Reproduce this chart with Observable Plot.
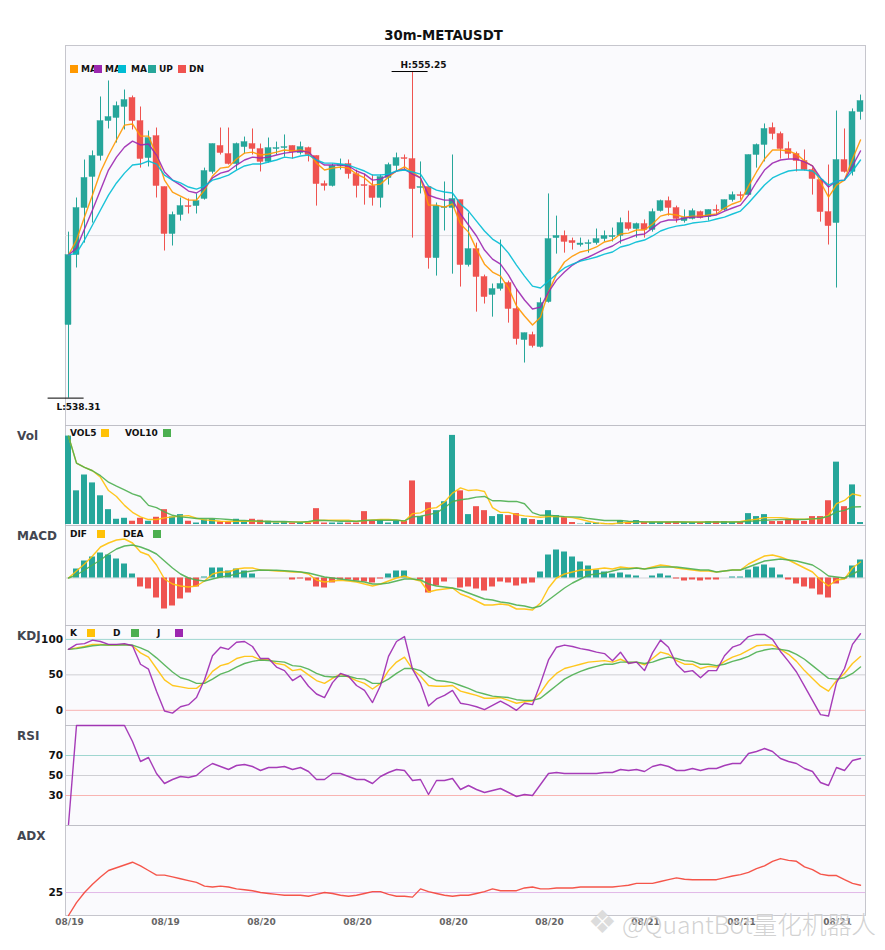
<!DOCTYPE html>
<html><head><meta charset="utf-8">
<script src="https://cdn.jsdelivr.net/npm/d3@7"></script>
<script src="https://cdn.jsdelivr.net/npm/@observablehq/plot@0.6"></script>
<style>
html,body{margin:0;padding:0;background:#fff;overflow:hidden}
#root{position:relative;width:885px;height:950px;overflow:hidden;font-family:"DejaVu Sans",sans-serif}
.t{position:absolute;white-space:nowrap;line-height:1;z-index:5}
.lg{font-size:9px;font-weight:700;color:#111}
.sq{position:absolute;width:8px;height:8px;z-index:5}
.pn{font-size:12px;font-weight:700;color:#434651}
</style></head><body><div id="root"></div>
<script>
const open=[542.10,545.73,548.17,549.78,550.87,552.68,552.84,553.41,553.88,552.68,550.76,551.90,549.26,546.82,547.81,548.27,548.27,548.64,550.04,551.39,550.97,550.45,551.33,551.49,551.23,550.56,551.23,551.28,551.39,551.02,551.28,550.87,549.41,549.31,550.35,550.45,549.93,549.36,549.31,548.69,549.73,550.35,550.76,550.71,549.21,549.26,545.57,548.17,548.17,548.58,545.21,546.04,544.59,543.66,543.97,544.28,542.93,541.32,541.58,540.96,543.29,546.61,546.72,546.46,546.25,546.30,546.35,546.56,546.66,546.72,547.39,547.08,547.34,547.03,548.01,548.53,548.17,547.49,547.60,547.96,547.70,548.07,548.07,548.58,548.84,548.84,550.92,551.44,552.32,552.01,551.23,550.97,550.61,550.14,549.62,547.96,547.39,550.66,550.04,553.15];
const high=[546.92,548.69,550.66,551.13,553.93,554.76,553.67,554.29,553.98,553.41,552.16,552.32,549.26,547.96,548.69,548.64,548.90,550.24,551.49,552.32,552.32,551.54,551.85,552.27,551.49,551.80,551.59,551.96,551.39,551.59,551.33,550.87,549.57,550.45,550.71,550.66,550.14,549.93,549.88,549.88,550.50,551.02,550.92,555.25,550.56,549.26,548.43,549.52,550.92,548.58,547.91,546.35,544.69,544.23,546.51,544.38,543.97,541.68,541.73,543.50,548.90,547.75,546.98,546.61,546.61,546.51,547.08,546.98,547.13,547.65,548.01,547.39,547.55,548.12,548.58,548.74,548.27,548.07,548.12,548.01,548.07,548.32,548.58,549.00,549.00,550.92,551.49,552.53,552.58,552.11,551.59,551.07,551.18,550.24,549.62,550.40,553.20,552.27,553.31,554.03];
const low=[538.31,545.06,546.35,547.39,550.61,552.27,551.54,552.22,552.22,550.24,550.30,548.69,545.94,546.20,547.49,547.86,547.86,548.58,549.93,550.92,550.40,550.14,550.97,550.92,550.04,550.50,550.92,550.81,550.71,550.92,550.56,548.27,549.05,549.26,550.14,549.67,548.69,548.32,548.27,548.17,549.36,550.09,550.14,546.61,548.90,545.00,544.64,546.98,544.74,544.07,545.11,542.77,543.19,542.51,543.86,542.20,541.06,540.13,540.91,540.91,543.24,545.78,545.83,545.99,546.15,545.83,546.25,546.41,546.41,546.30,546.98,546.61,546.61,546.92,547.96,547.75,547.39,547.39,547.55,547.60,547.49,547.81,548.01,548.48,548.58,548.79,550.24,550.56,551.70,550.71,550.71,550.04,550.09,548.84,547.44,546.25,544.02,549.98,549.83,552.73];
const close=[545.73,548.17,549.73,550.87,552.68,552.89,553.46,553.77,552.68,550.71,551.80,549.31,546.82,547.81,548.27,548.22,548.53,550.09,551.49,551.02,550.45,551.49,551.59,551.23,550.56,551.28,551.28,551.33,551.07,551.33,550.92,549.41,549.31,550.35,550.40,549.93,549.31,549.31,548.69,549.78,550.40,550.76,550.71,549.15,549.26,545.57,548.27,548.22,548.64,545.21,546.04,544.59,543.55,543.97,544.23,542.93,541.37,541.68,541.01,543.24,546.56,546.72,546.41,546.35,546.33,546.35,546.56,546.72,546.72,547.39,547.08,547.34,547.03,547.96,548.53,548.17,547.60,547.65,548.01,547.65,548.07,548.01,548.58,548.84,548.79,550.92,551.44,552.27,552.01,551.23,550.97,550.61,550.14,549.67,547.96,547.23,550.66,550.04,553.15,553.72];
const ma1=[545.73,546.51,547.70,548.84,550.04,550.92,551.70,552.47,552.53,551.90,551.90,550.92,549.62,549.00,548.79,548.58,548.58,549.10,549.83,550.24,550.30,550.71,551.02,551.07,550.92,550.97,551.07,551.18,551.13,551.18,551.07,550.50,550.14,550.24,550.30,550.24,549.93,549.73,549.36,549.41,549.78,550.09,550.30,550.04,549.73,548.32,548.32,548.22,548.38,547.34,546.92,546.04,545.26,544.85,544.64,544.02,543.09,542.57,542.10,542.51,543.81,544.74,545.37,545.68,545.89,545.99,546.15,546.41,546.51,546.82,546.87,547.03,547.03,547.34,547.75,547.86,547.81,547.70,547.75,547.75,547.81,547.86,548.17,548.38,548.53,549.31,550.04,550.71,551.18,551.18,551.13,550.97,550.61,550.35,549.52,548.74,549.36,549.62,550.71,551.70];
const ma2=[545.73,546.09,547.08,548.07,549.10,550.14,550.81,551.33,551.64,551.44,551.49,550.92,550.04,549.62,549.36,549.05,548.95,549.21,549.73,549.98,550.09,550.40,550.66,550.81,550.76,550.81,550.92,551.02,551.07,551.13,551.07,550.66,550.40,550.40,550.40,550.35,550.09,549.93,549.62,549.67,549.88,550.09,550.19,549.93,549.73,548.84,548.69,548.58,548.58,547.86,547.29,546.72,545.99,545.52,545.26,544.69,543.97,543.40,542.93,543.03,543.81,544.43,544.85,545.21,545.47,545.63,545.83,546.04,546.20,546.46,546.61,546.77,546.82,547.13,547.44,547.55,547.55,547.65,547.70,547.70,547.75,547.81,548.01,548.17,548.32,548.84,549.52,550.14,550.50,550.66,550.71,550.71,550.56,550.35,549.73,549.26,549.57,549.62,550.35,551.13];
const ma3=[545.73,545.83,546.51,547.29,548.07,548.84,549.47,549.98,550.40,550.45,550.61,550.45,549.88,549.62,549.47,549.26,549.15,549.31,549.62,549.73,549.88,550.14,550.35,550.45,550.45,550.56,550.66,550.81,550.76,550.87,550.92,550.66,550.50,550.50,550.45,550.40,550.24,550.09,549.88,549.88,549.93,550.09,550.14,550.04,549.93,549.31,549.10,549.00,548.95,548.38,548.01,547.49,546.98,546.56,546.30,545.83,545.21,544.64,544.12,544.02,544.38,544.74,545.06,545.26,545.42,545.52,545.63,545.78,545.89,546.15,546.25,546.41,546.51,546.72,546.98,547.13,547.23,547.29,547.39,547.44,547.49,547.60,547.70,547.86,548.01,548.43,548.90,549.36,549.73,549.93,550.09,550.14,550.14,550.09,549.73,549.36,549.57,549.62,550.09,550.66];
const vol=[89.3,34,50,42,29,15,5.3,6.3,3.3,6.3,3.3,7.3,15,7.6,10,3.3,1.5,4.6,5.3,2.7,2.7,5.3,2.7,5.3,4.3,3.3,1.5,2.7,1.5,1.5,1.5,16,1.5,1.5,1.5,1.5,1.5,13,3.3,4.3,1.5,3.3,3.3,44,8,22,14,23,90,34,10,18,14,8,10,9,11,6,5,4,14,9,7,2,0.4,1.5,1.5,0.7,0.7,4,2,4,2,2,2,2,3,2,2,2,3,3,3,2,2,11,8,10,3,3,5,5,3,8,8,24,63,18,40,2];
const vol5=[89.3,62,57.7,54.3,47.7,34.3,28.3,19.3,12.3,7.7,5,5,6.7,7.7,8.3,9,6.3,4.7,4,3.3,3,3.3,3.3,3.3,3,3,2.7,2.7,2.7,2.7,2.3,4,4.3,4.3,4.3,4.3,3,4,4.7,5,5,4.7,3.3,11,11.7,16,17,22.7,31.7,37,34.3,35,33.3,17,12.3,12.3,10,8.7,8,7.3,8,8,7.7,7,5.3,3.3,1.7,1,0.7,1.7,2,2.7,2.7,2.7,2.7,2.7,2.8,2.6,2.6,2.6,2.6,2.7,2.7,2.7,3,4.3,5.3,7,7,7,6,5.3,5.3,5.7,6,9.3,21,24.3,31,29];
const vol10=[89.3,62,57.7,54.3,49.3,42.7,38.7,35,31,28.3,19.3,17,12.7,9.3,7.7,7,6,6,6,5.7,5,4.3,4,3.7,3.3,3,3,3,2.7,2.3,3,4.3,4,3.7,3.3,3.3,3.3,4,4.3,4.3,4.3,4.3,3.7,7.7,8.3,10,11.7,17,23.3,25,26,27.7,28.3,24,24,23.3,23.3,21,12,9.3,9.3,8.7,8,7.7,7.3,6,5,4,4,4,3.3,3,2.7,2.5,2.5,2.6,2.6,2.5,2.4,2.4,2.5,2.5,2.6,2.6,2.6,3.3,3.7,4.3,4.7,5,5,5,5,5.7,6.3,8.3,12.7,14.3,17.7,18];
const macdHist=[0,9,17,21,25,23,19,14,4,-9,-11,-20,-31,-28,-21,-15,-9,1,10,10,7,9,7,4,0,0,0,0,-2,-1,-3,-9,-10,-5,-2,-2,-3,-4,-5,-1,4,7,7,0,-2,-15,-8,-4,0,-10,-9,-11,-13,-9,-4,-5,-8,-6,-5,6,23,28,26,21,16,12,8,6,4,5,3,2,0,2,4,2,-1,-3,-2,-3,-2,-2,0,1,1,8,11,13,10,3,-2,-6,-9,-11,-17,-20,-6,-1,12,18];
const dif=[0,7,14,22,31,35,38,39,35,26,23,13,-1,-6,-8,-9,-8,-3,4,6,6,9,10,10,8,7.7,7,6.7,6,6,4,-2,-4,-3,-2.3,-3,-4,-6,-8,-6,-3,0,2,-1,-3,-14,-12,-11,-10,-16,-19,-23,-27,-27,-26,-27,-31,-31,-32,-25,-10,0,4,6,8,8,9,10,9,11,10,10,9,11,13,12,10,9,8,7,7,6,7,8,8,14,18,22,23,21,18,14,10,6,-2,-8,-2,-1,10,16];
const dea=[0,3,8,13,18,24,29,32,33,31,28,24,17,10,4,0,-2,-3,-1,1,2,4,6,7,8,7.7,7.7,7.3,6.7,6,5,3,1,0,-1,-2,-3,-4,-6,-6,-5,-3,-1,-1,-2,-6,-8,-9,-10,-12,-15,-18,-21,-22,-24,-25,-27,-28,-30,-28,-22,-16,-10,-5,-1,3,4,5,7,9,9,10,9,10,11,11,11,10,9,8,8,6,7,8,8,11,14,17,18,19,18,17,15,13,8,2,1,0,4,8];
const kK=[86,88,90,93,93,92,92,93,91,81,75,59,43,35,33,31,31,40,55,63,66,73,76,76,71,72,66,64,56,58,50,42,38,45,51,47,42,38,30,38,56,68,75,58,48,35,34,34,35,27,24,21,17,17,18,14,10,12,13,25,41,52,59,62,65,68,69,70,68,72,67,68,64,73,82,79,70,65,65,59,62,61,69,75,79,85,91,92,92,86,79,69,56,45,34,27,42,52,66,76];
const kD=[86,87,89,91,92,92,92,92,92,88,83,74,64,54,46,43,38,38,44,51,55,61,66,69,71,70,69,68,63,62,58,52,48,47,48,48,45,44,38,38,44,52,59,59,56,48,42,41,39,35,31,26,23,20,19,18,15,14,14,17,26,35,44,50,55,59,62,65,65,68,68,68,66,68,72,75,73,70,69,65,65,63,65,69,72,76,82,85,87,86,84,79,72,63,54,45,44,46,52,61];
const kJ=[86,93,94,99,97,93,93,94,91,65,58,27,-1,-4,5,8,18,43,77,89,86,96,97,90,73,73,61,56,42,49,34,23,18,39,52,48,35,28,11,35,76,97,104,58,38,6,16,21,28,10,8,5,1,7,13,7,0,10,8,38,71,89,92,90,87,85,82,80,70,82,66,68,56,81,99,89,65,54,56,46,56,56,77,89,93,104,107,107,100,83,69,54,34,14,-6,-8,39,59,93,108];
const rsi=[1,100,100,100,100,100,100,100,84,64,68,52,42,46,49,48,50,57,62,59,56,60,61,59,55,58,58,59,56,58,54,46,46,52,52,49,46,46,42,49,53,56,55,45,46,31,45,45,47,36,40,36,33,35,37,33,29,31,30,41,52,53,52,52,52,52,52,53,53,56,55,56,54,59,61,59,55,55,57,55,57,57,60,62,62,72,74,77,74,67,64,62,57,54,43,40,58,55,65,67];
const adx=[0,14,25,34,42,49,52,55,58,54,49,44,44,42,40,38,36,32,31,32,31,29,28,27,25,24,23,22,22,22,21,23,25,24,22,21,22,24,26,26,23,21,21,20,29,26,24,22,21,22,22,24,26,29,27,27,27,30,31,29,29,30,30,30,31,31,31,31,31,32,33,35,35,35,37,39,41,39.5,39,39,39,39,41,43,44.5,47,51,54,59,62,60,59,53,50,45,43.5,43.5,39,35,33];
const tickIdx=[0,12,24,36,48,60,72,84,96];
const tickDates=["08/19","08/19","08/20","08/20","08/20","08/20","08/21","08/21","08/21"];

const UP="#26A69A",DN="#EF5350",C1="#FF9800",C2="#9C27B0",C3="#00BCD4",Y="#FFC107",G="#4CAF50",P="#9C27B0";
const root=document.getElementById("root");
const idx=d3.range(open.length);
const dir=i=>close[i]>=open[i]?UP:DN;
const xDomain=[-0.375,99.625];
const lbw=0.375;

function panel(top,h,mb,yDomain,marks){
  const svg=Plot.plot({
    width:885,height:h,marginLeft:65,marginRight:20,marginTop:0,marginBottom:mb,
    x:{type:"linear",domain:xDomain,axis:null},
    y:{type:"linear",domain:yDomain,axis:null},
    color:{type:"identity"},
    style:{background:"transparent",overflow:"visible",position:"absolute",top:top+"px",left:"0",fontFamily:"DejaVu Sans",maxWidth:"none"},
    marks:[Plot.frame({fill:"#FAFAFD",stroke:"#B4B4BC",strokeOpacity:0.75}),...marks]
  });
  root.append(svg);
}
const line=(arr,c,w=1.4)=>Plot.lineY(arr,{x:(d,i)=>i,y:d=>d,stroke:c,strokeWidth:w,strokeOpacity:.9});
const refLine=(v,c)=>Plot.ruleY([v],{stroke:c,strokeWidth:1});
const yTicks=(t)=>Plot.axisY({ticks:t,tickSize:0,tickPadding:2.5,fontWeight:"bold",fontSize:10.5,fill:"#111",label:null,tickFormat:d=>String(d)});

// main
const hiI=high.indexOf(d3.max(high)), loI=low.indexOf(d3.min(low));
const extremes=[{i:hiI,v:high[hiI],s:"H:"+high[hiI].toFixed(2)},{i:loI,v:low[loI],s:"L:"+low[loI].toFixed(2)}];
panel(45,381,1,[536.89,556.60],[
  Plot.ruleY([546.74],{stroke:"#DCDCE0",strokeWidth:1}),
  Plot.ruleX(idx,{x:i=>i,y1:i=>low[i],y2:i=>high[i],stroke:dir,strokeWidth:1}),
  Plot.rect(idx,{x1:i=>i-lbw,x2:i=>i+lbw,y1:i=>open[i],y2:i=>close[i],fill:dir,stroke:dir,strokeWidth:0.4}),
  line(ma1,C1),line(ma2,C2),line(ma3,C3),
  Plot.ruleY(extremes,{x1:d=>d.i-2.55,x2:d=>d.i+1.95,y:d=>d.v,stroke:"#000",strokeWidth:1}),
  Plot.text(extremes.slice(0,1),{x:d=>d.i,y:d=>d.v,text:d=>d.s,dx:11,dy:-6.5,fontSize:9,fontWeight:"bold",fill:"#111"}),
  Plot.text(extremes.slice(1),{x:d=>d.i,y:d=>d.v,text:d=>d.s,dx:10,dy:9,fontSize:9,fontWeight:"bold",fill:"#111"})
]);
// volume
panel(425,101,1,[-1,100],[
  Plot.rect(idx,{x1:i=>i-lbw,x2:i=>i+lbw,y1:0,y2:i=>vol[i],fill:dir}),
  line(vol5,Y),line(vol10,G)
]);
// MACD
panel(525,101,1,[-47.5,52.5],[
  refLine(0,"#D4D4D8"),
  Plot.rect(idx,{x1:i=>i-lbw,x2:i=>i+lbw,y1:0,y2:i=>macdHist[i],fill:i=>macdHist[i]>=0?UP:DN}),
  line(dif,Y),line(dea,G)
]);
// KDJ
panel(625,101,1,[-21.4,119.6],[
  refLine(100,"#9FD6D0"),refLine(50,"#CFCFD4"),refLine(0,"#F8B4B2"),
  yTicks([0,50,100]),
  line(kK,Y),line(kD,G),line(kJ,P)
]);
// RSI
panel(725,101,1,[0,100],[
  refLine(70,"#9FD6D0"),refLine(50,"#CFCFD4"),refLine(30,"#F8B4B2"),
  yTicks([30,50,70]),
  line(rsi,P)
]);
// ADX
panel(825,115,25,[0,98],[
  refLine(25,"#E2B8E8"),
  yTicks([25]),
  Plot.axisX({ticks:tickIdx,tickFormat:d=>tickDates[tickIdx.indexOf(d)],tickSize:0,tickPadding:3,dx:1,fontWeight:"bold",fontSize:9,fill:"#666",label:null}),
  line(adx,"#F44336")
]);

// html text and legends
function text(s,x,y,cls,extra){const e=document.createElement("div");e.className="t "+cls;e.textContent=s;e.style.left=x+"px";e.style.top=y+"px";if(extra)Object.assign(e.style,extra);root.append(e);return e;}
function sq(c,x,y){const e=document.createElement("div");e.className="sq";e.style.background=c;e.style.left=x+"px";e.style.top=y+"px";root.append(e);}
text("30m-METAUSDT",1,28.5,"",{width:"885px",textAlign:"center",fontSize:"13.3px",fontWeight:"700",color:"#111"});
[["Vol",429.5],["MACD",529.5],["KDJ",629.5],["RSI",729.5],["ADX",829.5]].forEach(([s,y])=>text(s,17,y,"pn"));
const legends=[
 {y:65,items:[["MA",81,C1,70],["MA",105,C2,94],["MA",131,C3,118],["UP",159,UP,148],["DN",189,DN,178]]},
 {y:429,items:[["VOL5",70,Y,101],["VOL10",125,G,163]]},
 {y:530,items:[["DIF",70,Y,97],["DEA",123,G,153]]},
 {y:629,items:[["K",70,Y,87],["D",113,G,131],["J",157,P,175]]}
];
legends.forEach(l=>l.items.forEach(([s,tx,c,sx])=>{text(s,tx,l.y,"lg");sq(c,sx,l.y);}));
// watermark
text("❖",588,906,"",{fontSize:"32px",color:"#DCDCDC",zIndex:6});
text("@QuantBot量化机器人",622,911,"",{fontFamily:'"Noto Sans CJK SC","Noto Sans",sans-serif',fontWeight:"300",fontSize:"24.7px",color:"rgba(195,195,195,.75)",textShadow:"0 0 2px #fff",zIndex:6});
</script></body></html>
